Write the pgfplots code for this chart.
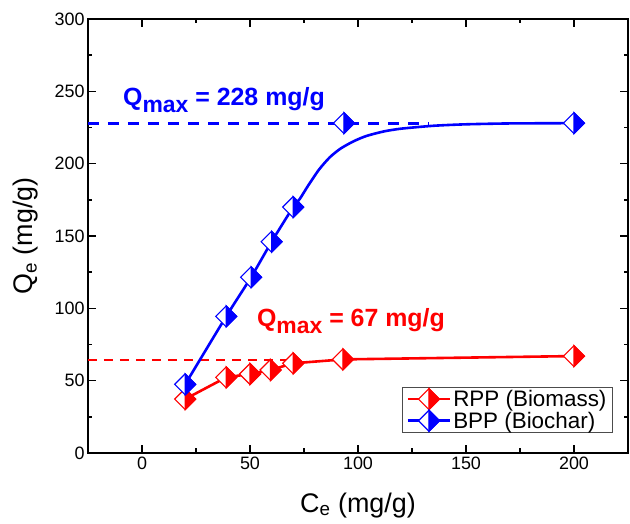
\documentclass[border=0pt]{standalone}
\usepackage{fontspec}
\setmainfont{Liberation Sans}
\usepackage{pgfplots}
\pgfplotsset{compat=1.18}
\usetikzlibrary{calc}

\definecolor{rppred}{RGB}{255,0,0}
\definecolor{bppblue}{RGB}{0,0,255}

% diamond with open left half and filled right half
\pgfdeclareplotmark{halfdiamond}{%
  \begin{pgfscope}
    \pgfsetfillcolor{white}
    \pgfpathmoveto{\pgfqpoint{0pt}{\pgfplotmarksize}}
    \pgfpathlineto{\pgfqpoint{-\pgfplotmarksize}{0pt}}
    \pgfpathlineto{\pgfqpoint{0pt}{-\pgfplotmarksize}}
    \pgfpathlineto{\pgfqpoint{\pgfplotmarksize}{0pt}}
    \pgfpathclose
    \pgfusepathqfill
  \end{pgfscope}
  \pgfpathmoveto{\pgfqpoint{0pt}{\pgfplotmarksize}}
  \pgfpathlineto{\pgfqpoint{\pgfplotmarksize}{0pt}}
  \pgfpathlineto{\pgfqpoint{0pt}{-\pgfplotmarksize}}
  \pgfpathclose
  \pgfusepathqfillstroke
  \pgfpathmoveto{\pgfqpoint{0pt}{\pgfplotmarksize}}
  \pgfpathlineto{\pgfqpoint{-\pgfplotmarksize}{0pt}}
  \pgfpathlineto{\pgfqpoint{0pt}{-\pgfplotmarksize}}
  \pgfpathlineto{\pgfqpoint{\pgfplotmarksize}{0pt}}
  \pgfpathclose
  \pgfusepathqstroke
}

\pgfplotstableread{
ce    qe
20    37.3
39    52.3
50    54.6
59.5  57.4
70    62.0
93    64.7
200   67.0
}\rpp

\pgfplotstableread{
ce    qe
20    47.5
39    94.5
50.5  121.5
60    146.0
70    170.0
93.5  228.0
200   228.0
}\bpp

% fitted isotherm for BPP
\pgfplotstableread{
ce     qe
20     47.5
39     94.5
50.5   121.5
60     146.0
70     170.0
73     175.5
77     185
82     196
87     204.5
92     210.5
98     215.5
104    219.2
112    222.3
120    224.2
135    226.2
150    227.2
170    227.8
200    228.0
}\bppfit

\begin{document}
\begin{tikzpicture}
\begin{axis}[
  name=ax,
  scale only axis,
  width=540bp, height=434bp,
  xmin=-25, xmax=225, ymin=0, ymax=300,
  xtick={0,50,...,200}, ytick={0,50,...,300},
  minor x tick num=1, minor y tick num=1,
  tick align=inside,
  major tick length=8bp, minor tick length=4.5bp,
  axis line style={line width=1.5bp},
  every tick/.style={black, line width=1.5bp},
  ticklabel style={font=\fontsize{18}{18}\selectfont},
  /pgf/number format/assume math mode=true,
  xlabel={C\textsubscript{e} (mg/g)},
  ylabel={Q\textsubscript{e} (mg/g)},
  label style={font=\fontsize{27}{30}\selectfont},
  xlabel style={at={([yshift=-59bp]axis description cs:0.5,0)}, anchor=base},
  ylabel style={at={([xshift=-55bp]axis description cs:0,0.5)}, anchor=base},
  legend style={at={(rel axis cs:0.972,0.046)}, anchor=south east,
    draw=black!70, line width=0.8bp, font=\fontsize{22.5}{27}\selectfont,
    inner xsep=4bp, inner ysep=1bp, row sep=0bp},
  legend cell align=left,
  legend image code/.code={%
    \draw[mark repeat=2, mark phase=2, #1] plot coordinates {(0bp,0bp) (21bp,0bp) (42bp,0bp)};},
]
% Q_max levels
\addplot[forget plot, color=rppred, line width=1.8bp, dash pattern=on 9bp off 7bp]
  coordinates {(-25,64.5) (72,64.5)};
\addplot[forget plot, color=bppblue, line width=2.8bp, dash pattern=on 11bp off 9bp]
  coordinates {(-25,228) (133,228)};

% RPP
\addplot[forget plot, color=rppred, line width=2.6bp, mark=halfdiamond, mark size=10.5bp,
  mark options={solid, line width=1.1bp, fill=rppred}]
  table[x=ce, y=qe] {\rpp};

% BPP fit and data
\addplot[forget plot, color=bppblue, line width=2.6bp, smooth, tension=0.4]
  table[x=ce, y=qe] {\bppfit};
\addplot[forget plot, color=bppblue, only marks, mark=halfdiamond, mark size=10.5bp,
  mark options={solid, line width=1.1bp, fill=bppblue}]
  table[x=ce, y=qe] {\bpp};

\node[anchor=base west, inner sep=0pt, text=bppblue, font=\bfseries\fontsize{25}{25}\selectfont]
  at (axis cs:-8.8,240.5) {Q\raisebox{-0.3em}{\fontsize{23}{23}\selectfont max} = 228 mg/g};
\node[anchor=base west, inner sep=0pt, text=rppred, font=\bfseries\fontsize{25}{25}\selectfont]
  at (axis cs:53.2,87.5) {Q\raisebox{-0.3em}{\fontsize{23}{23}\selectfont max} = 67 mg/g};

\addlegendimage{color=rppred, line width=2.6bp, mark=halfdiamond, mark size=10.5bp,
  mark options={solid, line width=1.1bp, fill=rppred}}
\addlegendentry{RPP (Biomass)}
\addlegendimage{color=bppblue, line width=2.6bp, mark=halfdiamond, mark size=10.5bp,
  mark options={solid, line width=1.1bp, fill=bppblue}}
\addlegendentry{BPP (Biochar)}
\end{axis}
\pgfresetboundingbox
\path ($(ax.south west)+(-88bp,-71bp)$) rectangle ($(ax.north east)+(2bp,19bp)$);
\end{tikzpicture}
\end{document}
